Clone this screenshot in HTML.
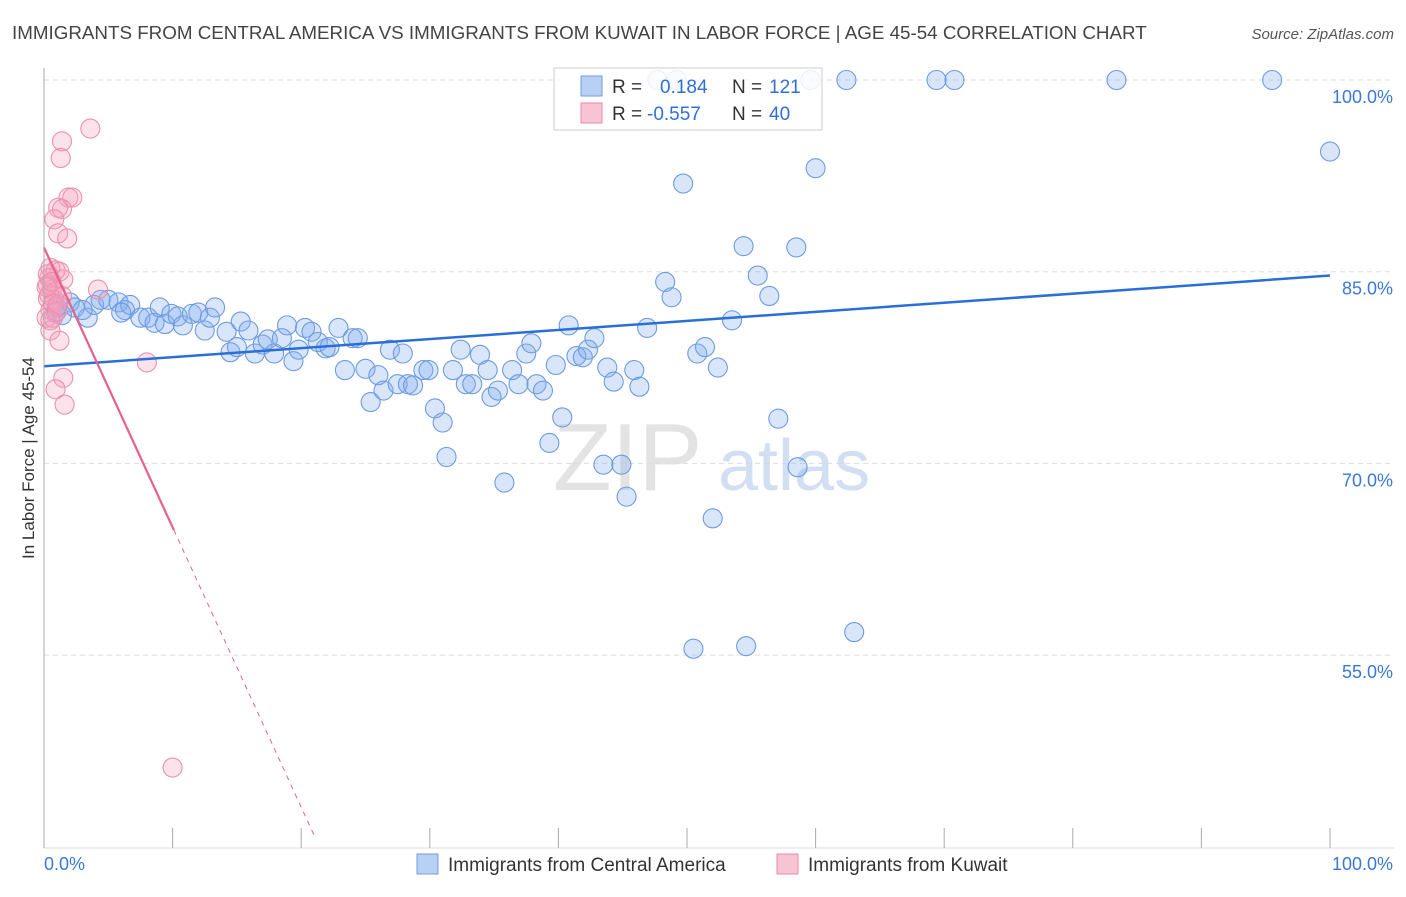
<!DOCTYPE html>
<html><head><meta charset="utf-8"><style>
body{margin:0;background:#fff;font-family:"Liberation Sans",sans-serif;}
svg text{font-family:"Liberation Sans",sans-serif;}
</style></head><body>
<svg id="chart" width="1406" height="892" xmlns="http://www.w3.org/2000/svg">
<text x="12" y="39" font-size="18.8" fill="#444">IMMIGRANTS FROM CENTRAL AMERICA VS IMMIGRANTS FROM KUWAIT IN LABOR FORCE | AGE 45-54 CORRELATION CHART</text>
<text x="1394" y="39" font-size="15" fill="#555" text-anchor="end" font-style="italic">Source: ZipAtlas.com</text>
<g id="grid"></g>
<text x="553" y="490" font-size="96" fill="#ddd" font-family="Liberation Serif" opacity="0.8">ZIP</text>
<text x="718" y="490" font-size="72" fill="#c8d8ef" opacity="0.8">atlas</text>
<g id="pts"></g>
<g id="lines"></g>
<g id="axes"></g>
<text transform="translate(34,458) rotate(-90)" font-size="17" fill="#333" text-anchor="middle">In Labor Force | Age 45-54</text>
<g>
<rect x="554" y="68" width="268" height="62" fill="#fff" fill-opacity="0.85" stroke="#ccc"/>
<rect x="581" y="76" width="21" height="20" fill="#b8d0f4" stroke="#6f9de0"/>
<rect x="581" y="103" width="21" height="20" fill="#f8c4d4" stroke="#e88aa8"/>
<text x="612" y="93" font-size="19" fill="#333">R =</text>
<text x="660" y="93" font-size="19" fill="#2f6fd6">0.184</text>
<text x="732" y="93" font-size="19" fill="#333">N =</text>
<text x="769" y="93" font-size="19" fill="#2f6fd6">121</text>
<text x="612" y="120" font-size="19" fill="#333">R =</text>
<text x="647" y="120" font-size="19" fill="#2f6fd6">-0.557</text>
<text x="732" y="120" font-size="19" fill="#333">N =</text>
<text x="769" y="120" font-size="19" fill="#2f6fd6">40</text>
</g>
<g>
<rect x="417" y="854" width="21" height="20" fill="#b8d0f4" stroke="#6f9de0"/>
<text x="448" y="871" font-size="19" fill="#333">Immigrants from Central America</text>
<rect x="777" y="854" width="21" height="20" fill="#f8c4d4" stroke="#e88aa8"/>
<text x="808" y="871" font-size="19" fill="#333">Immigrants from Kuwait</text>
</g>
</svg>
<script>
const blueX=[0.9,1.4,2.0,2.4,3.4,3.9,4.4,5.0,5.8,6.3,6.7,7.5,8.1,8.6,9.0,9.4,9.9,10.4,10.8,11.5,12.0,12.5,12.9,13.3,14.2,14.5,15.0,15.3,15.9,16.4,17.0,17.4,17.9,18.5,18.9,19.4,19.8,20.3,20.8,21.3,21.9,22.2,22.9,23.4,24.0,24.4,25.0,25.4,26.0,26.4,26.9,27.5,27.9,28.3,28.7,29.5,29.9,30.4,31.0,31.3,31.8,32.4,32.8,33.3,33.9,34.5,34.8,35.3,35.8,36.4,36.9,37.5,37.9,38.3,38.8,39.3,39.8,40.3,40.8,41.4,41.9,42.3,42.8,43.5,43.8,44.3,44.9,45.3,45.9,46.3,46.9,48.3,48.8,49.7,50.8,51.4,52.0,52.4,53.5,54.4,55.5,56.4,57.1,58.5,58.6,60.0,63.0,50.5,54.6,100,47.7,49.2,59.6,62.4,69.4,70.8,83.4,95.5,1.0,3.0,6.0];
const blueY=[81.8,81.6,82.6,82.2,81.4,82.4,82.8,82.8,82.6,82.0,82.4,81.4,81.4,81.0,82.2,80.9,81.7,81.5,80.8,81.7,81.8,80.4,81.4,82.2,80.3,78.7,79.1,81.1,80.4,78.6,79.3,79.7,78.6,79.8,80.8,78.0,78.9,80.6,80.3,79.5,79.0,79.1,80.6,77.3,79.8,79.8,77.4,74.8,76.9,75.7,78.9,76.2,78.6,76.2,76.1,77.3,77.3,74.3,73.2,70.5,77.3,78.9,76.2,76.2,78.5,77.3,75.2,75.7,68.5,77.3,76.2,78.6,79.4,76.2,75.7,71.6,77.7,73.6,80.8,78.4,78.3,78.9,79.8,69.9,77.5,76.4,69.9,67.4,77.3,76.0,80.6,84.2,83.0,91.9,78.6,79.1,65.7,77.5,81.2,87.0,84.7,83.1,73.5,86.9,69.7,93.1,56.8,55.5,55.7,94.4,100,100,100,100,100,100,100,100,82.2,82.0,81.8];
const pinkX=[3.6,1.4,1.3,1.9,2.2,1.1,1.4,0.8,1.1,1.8,0.5,0.9,1.2,0.4,1.5,0.3,0.6,0.9,0.3,0.8,0.5,0.2,0.7,4.2,1.4,0.5,1.2,8.0,1.5,0.9,1.6,10.0,0.4,0.7,1.0,0.3,0.6,0.2,1.1,0.5];
const pinkY=[96.2,95.2,93.9,90.8,90.8,90.0,89.9,89.1,88.0,87.6,85.3,85.1,85.0,84.5,84.4,84.0,83.6,83.4,82.9,82.8,82.0,81.4,81.4,83.6,83.1,80.4,79.6,77.9,76.7,75.8,74.6,46.2,83.2,82.5,81.9,84.8,84.2,83.8,82.4,81.2];
const blueTrend=[77.6,84.7];
const pinkTrend=[86.9,-2.19];
const yTicks=[100,85,70,55];
const xTickLabels=["0.0%","100.0%"];
const NS="http://www.w3.org/2000/svg";
const sx=v=>44+v*12.86, sy=v=>80+(100-v)*12.78;
function mk(t,a,p){const e=document.createElementNS(NS,t);for(const k in a)e.setAttribute(k,a[k]);p.appendChild(e);return e;}
const grid=document.getElementById('grid'),axes=document.getElementById('axes'),pts=document.getElementById('pts'),lines=document.getElementById('lines');
yTicks.forEach(v=>{
 const l=mk('line',{x1:44,x2:1394,y1:sy(v),y2:sy(v),stroke:'#ddd','stroke-dasharray':'5,4'},grid);
 
 
 const t=mk('text',{x:1393,y:sy(v)+23,'font-size':18,fill:'#3a78d8','text-anchor':'end'},axes);
 t.textContent=v.toFixed(1)+'%';
 
 
});
mk('line',{x1:44,x2:44,y1:68,y2:848,stroke:'#aaa'},axes);
mk('line',{x1:44,x2:1394,y1:848,y2:848,stroke:'#ddd'},axes);
for(let i=0;i<=10;i++){const tk=mk('line',{x1:sx(i*10),x2:sx(i*10),y1:828,y2:848,stroke:'#aaa'},axes);
 
 }
const x0=mk('text',{x:44,y:870,'font-size':18,fill:'#3a78d8'},axes);x0.textContent=xTickLabels[0];


const x1=mk('text',{x:1393,y:870,'font-size':18,fill:'#3a78d8','text-anchor':'end'},axes);x1.textContent=xTickLabels[1];


blueX.forEach((x,i)=>{const c=mk('circle',{cx:sx(x),cy:sy(blueY[i]),r:9.5,fill:'rgba(130,172,238,0.3)',stroke:'#6c9be2','stroke-width':1.1},pts);
 
 });
pinkX.forEach((x,i)=>{const c=mk('circle',{cx:sx(x),cy:sy(pinkY[i]),r:9.5,fill:'rgba(244,160,188,0.3)',stroke:'#ec90ae','stroke-width':1.1},pts);
 
 });
const bl=mk('line',{x1:sx(0),y1:sy(blueTrend[0]),x2:sx(100),y2:sy(blueTrend[1]),stroke:'#2a6fd6','stroke-width':2.5},lines);


const pk=x=>pinkTrend[0]+pinkTrend[1]*x;
const pl=mk('line',{x1:sx(0),y1:sy(pk(0)),x2:sx(10.1),y2:sy(pk(10.1)),stroke:'#e8608c','stroke-width':2.2},lines);


const pd=mk('line',{x1:sx(10.1),y1:sy(pk(10.1)),x2:sx(21),y2:sy(pk(21)),stroke:'#e8608c','stroke-width':1,'stroke-dasharray':'5,5'},lines);


</script>
</body></html>
